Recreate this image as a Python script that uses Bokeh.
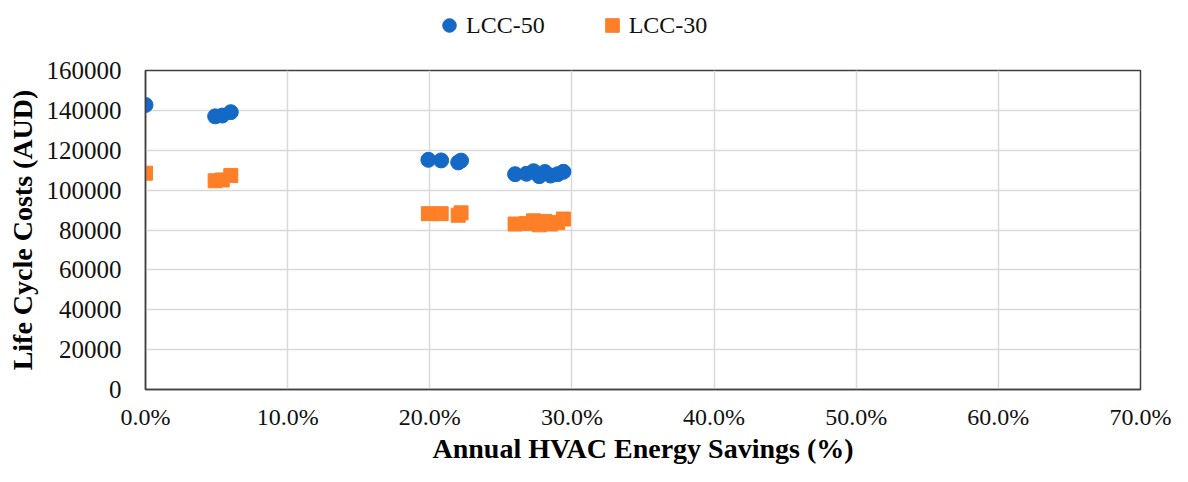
from bokeh.plotting import figure
from bokeh.layouts import column
from bokeh.models import FixedTicker, NumeralTickFormatter, Legend, LegendItem, Range1d
from bokeh.embed import file_html
from bokeh.resources import INLINE

# Data (x = annual HVAC energy savings as fraction, y = life cycle costs AUD)
savings = [0.0, 0.049, 0.054, 0.060, 0.199, 0.208, 0.220, 0.222,
           0.260, 0.268, 0.273, 0.277, 0.281, 0.285, 0.290, 0.294]
lcc50 = [142700, 137000, 137400, 139100, 115200, 114900, 113900, 114800,
         108000, 108200, 109500, 107000, 109100, 107300, 108000, 109200]
lcc30 = [108500, 104700, 105100, 107300, 88200, 88200, 87400, 88600,
         83000, 83200, 84600, 82600, 84300, 83000, 83700, 85500]
series_names = ["LCC-50", "LCC-30"]
x_ticks = [0.0, 0.1, 0.2, 0.3, 0.4, 0.5, 0.6, 0.7]
y_ticks = [0, 20000, 40000, 60000, 80000, 100000, 120000, 140000, 160000]

FONT = "Liberation Serif"
BLUE = "#1469C7"
ORANGE = "#FE7F27"
W = 1172

# ---- legend strip (separate small figure above the chart; its frame aligns with the chart's frame) ----
leg = figure(width=W, height=50, output_backend="svg", toolbar_location=None,
             x_range=Range1d(0, 1), y_range=Range1d(0, 1),
             x_axis_location=None, y_axis_location=None,
             min_border=0, outline_line_color=None)
leg.xgrid.visible = False
leg.ygrid.visible = False
# same series, lying outside this strip's visible range: only their legend glyphs show
l50 = leg.scatter(savings, lcc50, marker="circle", size=15, fill_color=BLUE, line_color=BLUE)
l30 = leg.scatter(savings, lcc30, marker="square", size=14, fill_color=ORANGE, line_color=ORANGE)
legend = Legend(items=[LegendItem(label=series_names[0], renderers=[l50]),
                       LegendItem(label=series_names[1], renderers=[l30])],
                orientation="horizontal", location=(287, 8),
                label_text_font=FONT, label_text_font_size="24px",
                label_text_color="#111111",
                glyph_width=34, glyph_height=34, label_standoff=0, spacing=50,
                padding=4, margin=0, border_line_color=None,
                background_fill_alpha=0)
leg.add_layout(legend, "center")

# ---- main chart ----
p = figure(width=W, height=416, output_backend="svg", toolbar_location=None,
           x_range=Range1d(0, 0.7), y_range=Range1d(0, 160000),
           min_border_left=145, min_border_right=32, min_border_top=20, min_border_bottom=68)

p.outline_line_color = "#404040"
p.outline_line_width = 1.5
p.background_fill_color = "white"

p.scatter(savings, lcc50, marker="circle", size=15, fill_color=BLUE, line_color=BLUE)
p.scatter(savings, lcc30, marker="square", size=14, fill_color=ORANGE, line_color=ORANGE)

for ax in (p.xaxis[0], p.yaxis[0]):
    ax.major_tick_line_color = None
    ax.minor_tick_line_color = None
    ax.axis_line_color = "#404040"
    ax.axis_line_width = 1.5
    ax.major_label_text_font = FONT
    ax.major_label_text_font_size = "24px"
    ax.major_label_text_color = "#111111"
    ax.axis_label_text_font = FONT
    ax.axis_label_text_font_style = "bold"
    ax.axis_label_text_font_size = "28px"
    ax.axis_label_text_color = "black"

p.yaxis.major_label_text_font_size = "25px"
p.xaxis.ticker = FixedTicker(ticks=x_ticks)
p.xaxis.formatter = NumeralTickFormatter(format="0.0%")
p.yaxis.ticker = FixedTicker(ticks=y_ticks)
p.yaxis.formatter = NumeralTickFormatter(format="0")
p.xaxis.axis_label = "Annual HVAC Energy Savings (%)"
p.yaxis.axis_label = "Life Cycle Costs (AUD)"
p.xaxis.major_label_standoff = 8
p.xaxis.axis_label_standoff = 0
p.yaxis.major_label_standoff = 18
p.yaxis.axis_label_standoff = 6

p.xgrid.grid_line_color = "#D9D9D9"
p.ygrid.grid_line_color = "#D9D9D9"
p.xgrid.grid_line_width = 1.5
p.ygrid.grid_line_width = 1.5

layout = column(leg, p, spacing=0)
open("out.html", "w").write(file_html(layout, INLINE))
